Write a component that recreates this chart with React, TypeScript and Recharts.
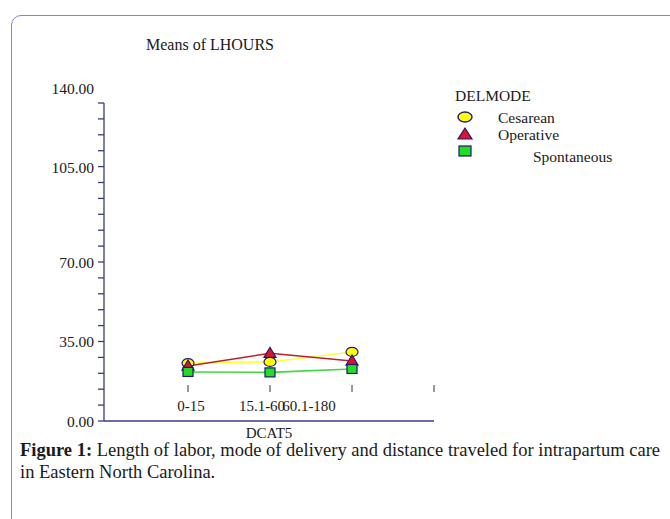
import React from "react";
import { LineChart, Line, XAxis, YAxis, Label } from "recharts";

const categories = ["0-15", "15.1-60", "60.1-180", ""];
const cesarean = [25.5, 26.0, 30.4, null];
const operative = [24.2, 29.8, 26.4, null];
const spontaneous = [21.6, 21.4, 22.9, null];
const yTicks = [0, 7, 14, 21, 28, 35, 42, 49, 56, 63, 70, 77, 84, 91, 98, 105, 112, 119, 126, 133, 140];
const yMajor = [0, 35, 70, 105, 140];
const seriesNames = ["Cesarean", "Operative", "Spontaneous"];

const data = categories.map((c, i) => ({
  cat: c,
  Cesarean: cesarean[i],
  Operative: operative[i],
  Spontaneous: spontaneous[i],
}));

const FONT = '"Liberation Serif", "Times New Roman", serif';
const AXIS = "#3a3886";
const NAVY = "#1c1a6e";

const CircleDot = (p: any) => {
  if (p.value == null || p.cy == null) return null;
  return <ellipse cx={p.cx} cy={p.cy} rx={6} ry={4.5} fill="#ffff00" stroke={NAVY} strokeWidth={1.2} />;
};
const TriDot = (p: any) => {
  if (p.value == null || p.cy == null) return null;
  const { cx, cy } = p;
  return <polygon points={`${cx},${cy - 6} ${cx - 6},${cy + 4} ${cx + 6},${cy + 4}`} fill="#e0102e" stroke={NAVY} strokeWidth={1.2} />;
};
const SqDot = (p: any) => {
  if (p.value == null || p.cy == null) return null;
  const { cx, cy } = p;
  return <rect x={cx - 5} y={cy - 4.5} width={10} height={9} fill="#22dd22" stroke={NAVY} strokeWidth={1.2} />;
};

const labelNudge = [3, -8, -43, 0];

const XTick = (p: any) => {
  const { x, y, payload, index } = p;
  return (
    <g>
      <line x1={x} x2={x} y1={y - 44} y2={y - 37} stroke="#333" strokeWidth={1} />
      <text x={x + (labelNudge[index] || 0)} y={y - 23} textAnchor="middle" dominantBaseline="central" fontFamily={FONT} fontSize={15} fill="#1a1a1a">
        {payload.value}
      </text>
    </g>
  );
};

const YTick = (p: any) => {
  const { x, y, payload } = p;
  const v = payload.value;
  if (!yMajor.includes(v)) return null;
  const dy = v >= 105 ? -15 : 0;
  return (
    <text x={x} y={y + dy} textAnchor="end" dominantBaseline="central" fontFamily={FONT} fontSize={15.5} fill="#1a1a1a">
      {v.toFixed(2)}
    </text>
  );
};

const LegendBox = () => (
  <svg width={210} height={80} style={{ position: "absolute", left: 450, top: 85, display: "block" }}>
    <text x={5} y={10} dominantBaseline="central" fontFamily={FONT} fontSize={15.5} fill="#1a1a1a">DELMODE</text>
    <ellipse cx={15} cy={32} rx={7} ry={5} fill="#ffff00" stroke={NAVY} strokeWidth={1.4} />
    <text x={48} y={32} dominantBaseline="central" fontFamily={FONT} fontSize={15.5} fill="#1a1a1a">{seriesNames[0]}</text>
    <polygon points="15,43 8,54 22,54" fill="#e0102e" stroke={NAVY} strokeWidth={1.2} />
    <text x={48} y={49} dominantBaseline="central" fontFamily={FONT} fontSize={15.5} fill="#1a1a1a">{seriesNames[1]}</text>
    <rect x={9} y={61} width={12} height={10} fill="#22dd22" stroke={NAVY} strokeWidth={1.2} />
    <text x={83} y={71} dominantBaseline="central" fontFamily={FONT} fontSize={15.5} fill="#1a1a1a">{seriesNames[2]}</text>
  </svg>
);

export default function App() {
  return (
    <div style={{ position: "absolute", left: 0, top: 0, width: 670, height: 519, overflow: "hidden", background: "#fff", fontFamily: FONT }}>
      <div style={{ position: "absolute", left: 11, top: 15, width: 700, height: 560, border: "1.5px solid #8a84c2", borderRadius: 10, boxSizing: "border-box" }} />
      <div style={{ position: "absolute", left: 110, top: 35, width: 200, textAlign: "center", fontSize: 16, color: "#1a1a1a", lineHeight: "20px" }}>
        Means of LHOURS
      </div>
      <div style={{ position: "absolute", left: 0, top: 0 }}>
        <LineChart width={670} height={519} data={data} margin={{ top: 103, right: 236, left: 0, bottom: 58 }}>
          <XAxis
            dataKey="cat"
            height={40}
            padding={{ left: 84, right: 0 }}
            axisLine={{ stroke: AXIS, strokeWidth: 1.3 }}
            tickLine={false}
            tick={<XTick />}
            interval={0}
          >
            <Label value="DCAT5" position="insideTop" offset={6} style={{ fontFamily: FONT, fontSize: 15, fill: "#1a1a1a" }} />
          </XAxis>
          <YAxis
            width={104}
            domain={[0, 140]}
            ticks={yTicks}
            interval={0}
            tickMargin={4}
            axisLine={{ stroke: AXIS, strokeWidth: 1.3 }}
            tickLine={{ stroke: AXIS, strokeWidth: 1.3 }}
            tick={<YTick />}
          />
          <Line dataKey="Cesarean" stroke="#ffff3a" strokeWidth={1.6} dot={<CircleDot />} isAnimationActive={false} connectNulls={false} />
          <Line dataKey="Operative" stroke="#b8222a" strokeWidth={1.6} dot={<TriDot />} isAnimationActive={false} connectNulls={false} />
          <Line dataKey="Spontaneous" stroke="#44d444" strokeWidth={1.6} dot={<SqDot />} isAnimationActive={false} connectNulls={false} />
        </LineChart>
      </div>
      <LegendBox />
      <div style={{ position: "absolute", left: 20, top: 439, fontSize: 18.5, lineHeight: "22px", color: "#1a1a1a", whiteSpace: "nowrap" }}>
        <b>Figure 1:</b> Length of labor, mode of delivery and distance traveled for intrapartum care
        <br />
        in Eastern North Carolina.
      </div>
    </div>
  );
}
